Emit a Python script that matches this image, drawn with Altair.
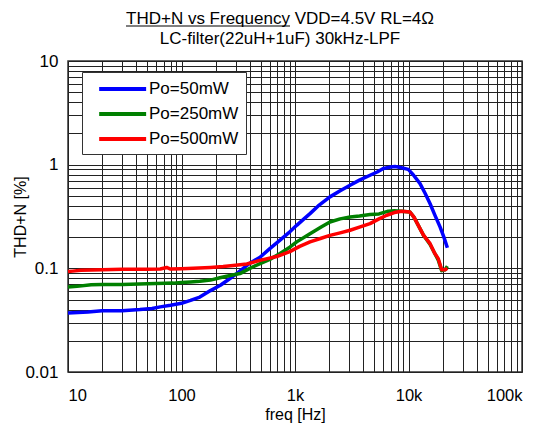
import altair as alt
import pandas as pd

FONT = "Liberation Sans"

series_names = ["Po=50mW", "Po=250mW", "Po=500mW"]
series_colors = ["#0000FF", "#008000", "#FF0000"]

freq_50 = [10, 15, 20, 30, 43, 55, 65, 80, 100, 120, 145, 180, 220, 260, 306, 350, 400, 492,
           600, 738, 900, 1035, 1200, 1356, 1600, 2032, 2500, 3055, 3700, 4580, 5300, 6000,
           7000, 7600, 8500, 9950, 11000, 12600, 14000, 15500, 17000, 19000, 20500, 22000]
thd_50 = [0.037, 0.038, 0.039, 0.039, 0.040, 0.041, 0.0425, 0.044, 0.046, 0.049, 0.0528, 0.061,
          0.0686, 0.078, 0.089, 0.10, 0.112, 0.128, 0.155, 0.187, 0.225, 0.26, 0.30, 0.337,
          0.40, 0.489, 0.56, 0.634, 0.71, 0.79, 0.85, 0.92, 0.95, 0.96, 0.94, 0.90, 0.80, 0.66,
          0.53, 0.42, 0.33, 0.25, 0.20, 0.158]

freq_250 = [10, 12, 16, 20, 30, 50, 85, 100, 120, 145, 180, 218, 250, 327, 400, 492, 600, 738,
            900, 1035, 1356, 1700, 2032, 2500, 3055, 3700, 4580, 5500, 6640, 7500, 8700, 10300,
            11200, 12200, 13500, 15500, 17000, 18300, 19600, 21000, 22000]
thd_250 = [0.066, 0.067, 0.0695, 0.07, 0.07, 0.071, 0.072, 0.073, 0.074, 0.075, 0.077, 0.081,
           0.084, 0.089, 0.10, 0.111, 0.122, 0.139, 0.16, 0.18, 0.216, 0.25, 0.28, 0.30, 0.313,
           0.32, 0.33, 0.335, 0.356, 0.36, 0.356, 0.35, 0.31, 0.26, 0.21, 0.17, 0.14, 0.12,
           0.095, 0.097, 0.105]

freq_500 = [10, 11, 13, 20, 30, 50, 65, 74, 80, 100, 127, 180, 233, 300, 376, 500, 690, 900,
            1100, 1356, 1700, 2032, 2500, 3055, 3700, 4580, 5500, 6430, 7500, 8700, 10300,
            11200, 12200, 13500, 15500, 17000, 18300, 19600, 21000, 22000]
thd_500 = [0.093, 0.094, 0.096, 0.097, 0.098, 0.098, 0.0985, 0.102, 0.0985, 0.099, 0.10, 0.102,
           0.104, 0.107, 0.11, 0.12, 0.13, 0.145, 0.163, 0.18, 0.195, 0.208, 0.22, 0.233, 0.25,
           0.27, 0.30, 0.325, 0.345, 0.356, 0.35, 0.31, 0.26, 0.21, 0.173, 0.14, 0.124, 0.097,
           0.097, 0.10]

x_ticks = [10, 100, 1000, 10000, 100000]
x_tick_labels = ["10", "100", "1k", "10k", "100k"]
y_ticks = [0.01, 0.1, 1, 10]
y_tick_labels = ["0.01", "0.1", "1", "10"]

title_lines = ["THD+N vs Frequency VDD=4.5V RL=4Ω", "LC-filter(22uH+1uF) 30kHz-LPF"]

rows = []
for name, fs, vs in zip(series_names, [freq_50, freq_250, freq_500], [thd_50, thd_250, thd_500]):
    for i, (f, v) in enumerate(zip(fs, vs)):
        rows.append({"series": name, "freq": f, "thd": v, "order": i})
df = pd.DataFrame(rows)

x_grid = [m * 10 ** e for e in range(1, 5) for m in range(1, 10)] + [100000]
y_grid = [round(m * 10.0 ** e, 4) for e in range(-2, 1) for m in range(1, 10)] + [10]


def label_expr(vals, labels):
    expr = "''"
    for v, l in reversed(list(zip(vals, labels))):
        expr = f"abs(datum.value - {v}) < {v} * 1e-6 ? '{l}' : ({expr})"
    return expr


W, H = 454, 311

lines = alt.Chart(df).mark_line(strokeWidth=3.5, strokeJoin="round").encode(
    x=alt.X("freq:Q", scale=alt.Scale(type="log", domain=[10, 100000], nice=False),
            axis=alt.Axis(values=x_grid, labelExpr=label_expr(x_ticks, x_tick_labels),
                          labelOverlap=False, title="freq [Hz]", labelPadding=15,
                          labelFontSize=16.5, titlePadding=3)),
    y=alt.Y("thd:Q", scale=alt.Scale(type="log", domain=[0.01, 10], nice=False),
            axis=alt.Axis(values=y_grid, labelExpr=label_expr(y_ticks, y_tick_labels),
                          labelOverlap=False, title="THD+N [%]", labelPadding=10,
                          titleX=-40, titleY=H / 2)),
    color=alt.Color("series:N", scale=alt.Scale(domain=series_names, range=series_colors),
                    legend=alt.Legend(title=None, orient="none", legendX=14, legendY=11,
                                      symbolType="M-1,0L5,0", symbolSize=245,
                                      symbolStrokeWidth=4, labelFontSize=17, labelFont=FONT,
                                      labelColor="black", labelOffset=32, symbolOffset=8,
                                      strokeColor="#333", fillColor="white", padding=7,
                                      rowPadding=7, labelLimit=250)),
    order="order:Q",
)

# two-line title drawn as text, with the first part underlined
title_df = pd.DataFrame({"line1": [title_lines[0]], "line2": [title_lines[1]]})
title1 = alt.Chart(title_df).mark_text(font=FONT, fontSize=17, align="center",
                                       baseline="middle", color="black").encode(
    text="line1:N", x=alt.value(212), y=alt.value(-42.5))
title2 = alt.Chart(title_df).mark_text(font=FONT, fontSize=17, align="center",
                                       baseline="middle", color="black").encode(
    text="line2:N", x=alt.value(212), y=alt.value(-22))
underline = alt.Chart(title_df).mark_rule(color="black", strokeWidth=1.2).encode(
    x=alt.value(58), x2=alt.value(222), y=alt.value(-35))

chart = alt.layer(lines, title1, title2, underline).properties(
    width=W, height=H,
    autosize=alt.AutoSizeParams(type="none"),
    padding={"left": 60, "top": 53, "right": 18, "bottom": 54},
).configure_view(stroke="#333", strokeWidth=1.5).configure_axis(
    grid=True, gridColor="#222", gridWidth=1, ticks=False, domain=False,
    labelFont=FONT, labelFontSize=17, titleFont=FONT, titleFontSize=16,
    labelColor="black", titleColor="black", titleFontWeight="normal",
)

chart.save("out.html", embed_options={"renderer": "svg", "actions": False})
